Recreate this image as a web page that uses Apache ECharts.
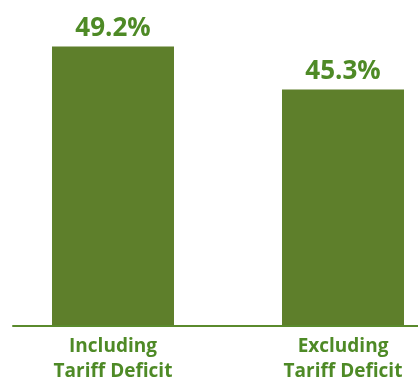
<!DOCTYPE html>
<html>
<head>
<meta charset="utf-8">
<script src="https://cdn.jsdelivr.net/npm/echarts@6/dist/echarts.min.js"></script>
<style>
  html, body { margin: 0; padding: 0; background: #fff; }
  #main { width: 418px; height: 380px; }
</style>
</head>
<body>
<div id="main"></div>
<script>
  var categories = ['Including\nTariff Deficit', 'Excluding\nTariff Deficit'];
  var values = [49.2, 45.3];

  var barColor = '#5e7f2b';
  var textColor = '#4e8a26';

  var chart = echarts.init(document.getElementById('main'));
  chart.setOption({
    animation: false,
    grid: [
      { left: -2, width: 460, top: 0, bottom: 55, outerBoundsMode: 'none', containLabel: false },
      // only for the visible baseline
      { left: 13, right: 0, top: 0, bottom: 54, outerBoundsMode: 'none', containLabel: false }
    ],
    xAxis: [
      {
        type: 'category',
        gridIndex: 0,
        data: categories,
        axisLine: { show: false },
        axisTick: { show: false },
        axisLabel: {
          color: textColor,
          fontFamily: 'Open Sans',
          fontWeight: 'bold',
          fontSize: 19,
          lineHeight: 25,
          margin: 9
        }
      },
      {
        type: 'category',
        gridIndex: 1,
        data: ['a'],
        axisLine: { show: true, lineStyle: { color: '#5a8a2c', width: 2 } },
        axisTick: { show: false },
        axisLabel: { show: false }
      }
    ],
    yAxis: [
      { type: 'value', gridIndex: 0, min: 24, max: 53.4, show: false },
      { type: 'value', gridIndex: 1, show: false }
    ],
    series: [
      {
        type: 'bar',
        xAxisIndex: 0,
        yAxisIndex: 0,
        data: values,
        barWidth: 122,
        itemStyle: { color: barColor },
        label: {
          show: true,
          position: 'top',
          distance: 5,
          color: textColor,
          fontFamily: 'Open Sans',
          fontWeight: 'bold',
          fontSize: 26,
          formatter: function (p) { return p.value.toFixed(1) + '%'; }
        }
      }
    ]
  });
</script>
</body>
</html>
